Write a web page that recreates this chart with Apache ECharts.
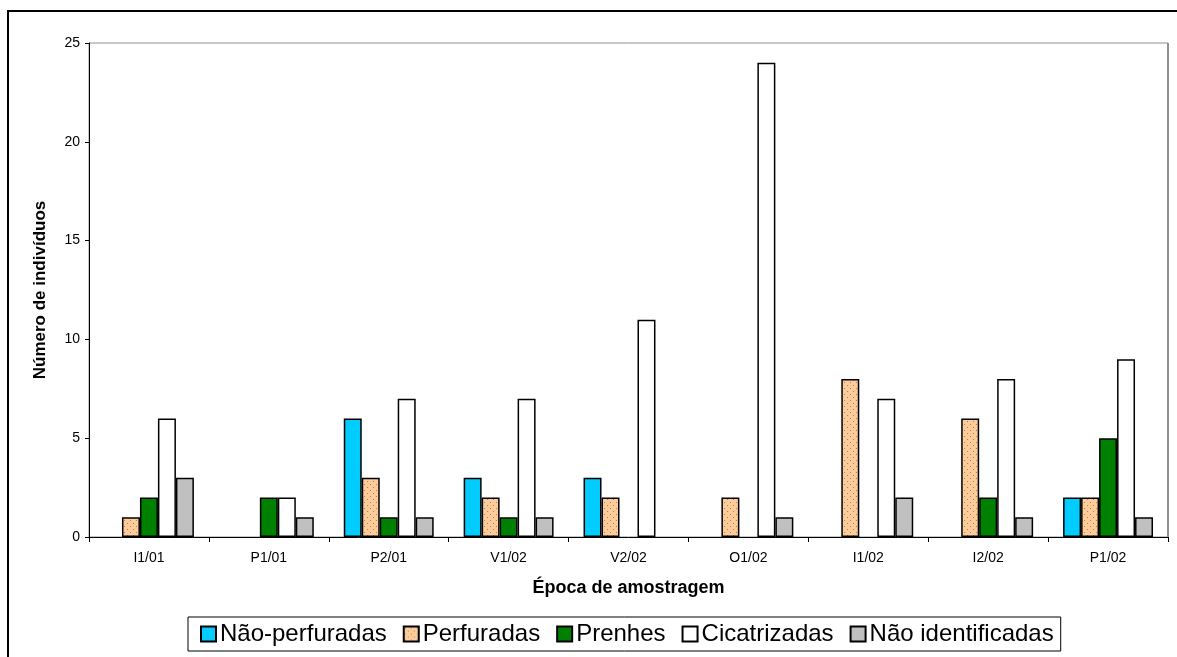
<!DOCTYPE html>
<html><head><meta charset="utf-8">
<script src="https://cdn.jsdelivr.net/npm/echarts@6/dist/echarts.min.js"></script>
<style>html,body{margin:0;padding:0;background:#fff}#c{width:1177px;height:657px}</style>
</head><body><div id="c"></div>
<script>
const categories = ['I1/01','P1/01','P2/01','V1/02','V2/02','O1/02','I1/02','I2/02','P1/02'];
const seriesNames = ['Não-perfuradas','Perfuradas','Prenhes','Cicatrizadas','Não identificadas'];
const naoPerfuradas   = [0,0,6,3,3,0,0,0,2];
const perfuradas      = [1,0,3,2,2,2,8,6,2];
const prenhes         = [2,2,1,1,0,0,0,2,5];
const cicatrizadas    = [6,2,7,7,11,24,7,8,9];
const naoIdentificadas= [3,1,1,1,0,1,2,1,1];
const yTicks = [0,5,10,15,20,25];

// dotted pattern for "Perfuradas"
const pc = document.createElement('canvas');
pc.width = 6; pc.height = 6;
const px = pc.getContext('2d');
px.fillStyle = '#FFCC99'; px.fillRect(0,0,6,6);
px.fillStyle = '#A08870';
px.fillRect(1,1,1,1); px.fillRect(4,4,1,1);

const fills = ['#00CCFF', {image: pc, repeat: 'repeat'}, '#008000', '#FFFFFF', '#C0C0C0'];
const values = [naoPerfuradas, perfuradas, prenhes, cicatrizadas, naoIdentificadas];

const chart = echarts.init(document.getElementById('c'), null, {renderer: 'canvas'});
const FONT = '"Liberation Sans", Arial, sans-serif';
chart.setOption({
  animation: false,
  textStyle: {fontFamily: FONT},
  graphic: [
    {type: 'rect', shape: {x: 8, y: 11, width: 1300, height: 800}, style: {fill: null, stroke: '#000', lineWidth: 2}, z: 100, silent: true},
    {type: 'line', shape: {x1: 1168, y1: 43, x2: 1168, y2: 537}, style: {stroke: '#909090', lineWidth: 2}, z: 1, silent: true}
  ],
  grid: {left: 89, right: 9, top: 43, bottom: 120, show: true, borderColor: '#909090', borderWidth: 1, backgroundColor: '#fff'},
  legend: {
    data: seriesNames,
    left: 188, top: 617,
    orient: 'horizontal',
    itemWidth: 15, itemHeight: 15, itemGap: 16,
    padding: [5, 7, 5, 12],
    borderColor: '#000', borderWidth: 1, backgroundColor: '#fff',
    textStyle: {fontSize: 24, color: '#000', fontFamily: FONT, padding: [0,0,0,-1]},
    icon: 'rect'
  },
  xAxis: {
    type: 'category',
    data: categories,
    name: 'Época de amostragem',
    nameLocation: 'middle',
    nameGap: 42,
    nameTextStyle: {fontWeight: 'bold', fontSize: 18, color: '#000'},
    axisLine: {lineStyle: {color: '#000', width: 1}},
    axisTick: {show: true, length: 5, lineStyle: {color: '#000'}},
    axisLabel: {color: '#000', fontSize: 14, margin: 14}
  },
  yAxis: {
    type: 'value',
    min: 0, max: 25, interval: 5,
    name: 'Número de indivíduos',
    nameLocation: 'middle',
    nameGap: 40,
    nameTextStyle: {fontWeight: 'bold', fontSize: 17, color: '#000'},
    axisLine: {show: true, lineStyle: {color: '#000', width: 1}},
    axisTick: {show: true, length: 4, lineStyle: {color: '#000'}},
    axisLabel: {color: '#000', fontSize: 14, margin: 9, formatter: v => yTicks.includes(v) ? String(v) : ''},
    splitLine: {show: false}
  },
  series: seriesNames.map((n, i) => ({
    name: n,
    type: 'bar',
    data: values[i].map(v => v === 0 ? '-' : v),
    barWidth: '15%',
    barGap: '0%',
    barCategoryGap: '25%',
    itemStyle: {color: fills[i], borderColor: '#000', borderWidth: 1.5}
  }))
});
</script></body></html>
